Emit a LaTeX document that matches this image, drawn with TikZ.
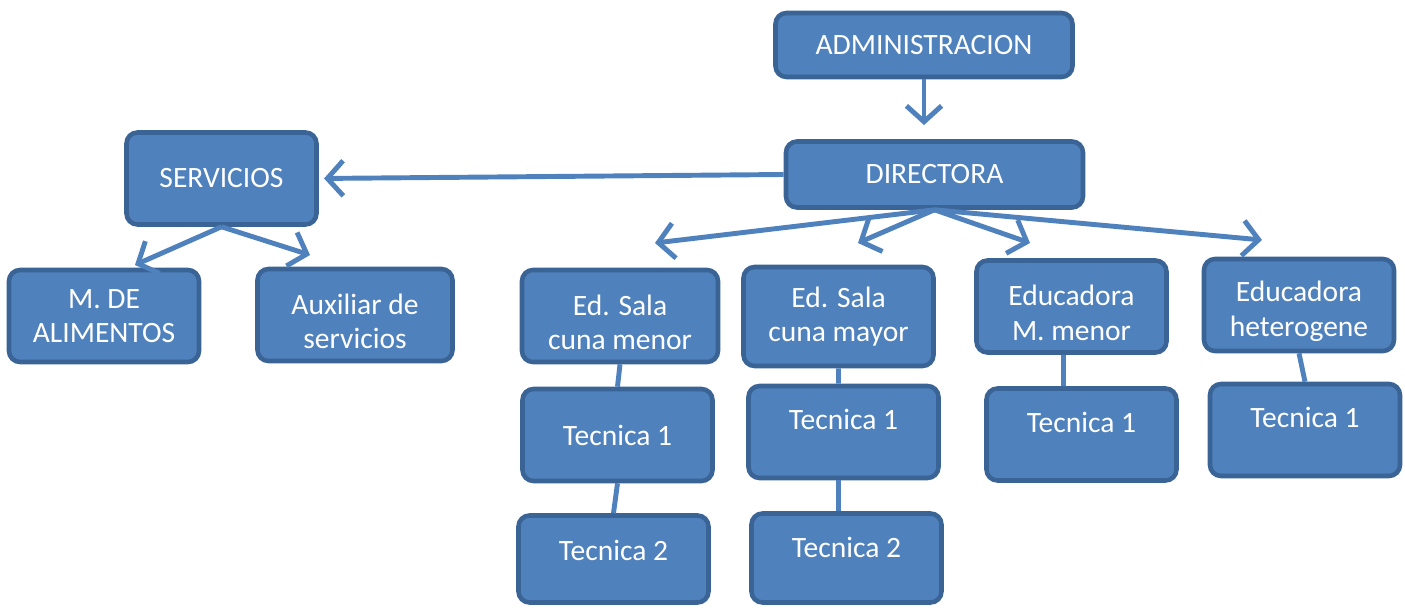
\documentclass[tikz,border=0pt]{standalone}
\usepackage{fontspec}
\setmainfont{Carlito}
\usepackage{tikz}
\usetikzlibrary{arrows.meta,positioning}
\definecolor{boxfill}{HTML}{4F81BD}
\definecolor{boxline}{HTML}{3A6496}
\tikzstyle{cargo} = [rectangle, rounded corners=0.22cm, fill=boxfill, draw=boxline, line width=2.6pt, text=white, align=center, text centered, font=\fontsize{16.8}{19.5}\selectfont, minimum width=3.8cm, minimum height=1.84cm]
\tikzstyle{jefe} = [cargo, minimum width=5.94cm, minimum height=1.28cm]
\tikzstyle{subir} = [text depth=#1]
\tikzstyle{flecha} = [draw=boxfill, line width=2.8pt, -{Straight Barb[length=9pt,width=20pt,line width=2.8pt]}]
\tikzstyle{linea} = [draw=boxfill, line width=2.8pt]
\newcommand{\bajar}{\rule{0pt}{0.66cm}}

\begin{document}
\begin{tikzpicture}
			\useasboundingbox (0,0) rectangle (28.1,-12.16);
			\node[jefe] (admin) at (18.48,-0.90) {ADMINISTRACION};
			\node[jefe, minimum height=1.32cm] (dir) at (18.69,-3.49) {DIRECTORA};
			\node[cargo] (serv) at (4.43,-3.57) {SERVICIOS};
			
			\node[cargo] (alim) at (2.08,-6.32) {M. DE\\ALIMENTOS};
			\node[cargo, minimum width=3.9cm] (aux) at (7.10,-6.30) {\bajar Auxiliar de\\servicios};
			\node[cargo, minimum width=3.92cm] (menor) at (12.40,-6.32) {\bajar Ed. Sala\\cuna menor};
			\node[cargo, minimum height=1.98cm] (mayor) at (16.77,-6.33) {Ed. Sala\\cuna mayor};
			\node[cargo] (mmenor) at (21.43,-6.13) {\bajar Educadora\\M. menor};
			\node[cargo] (hetero) at (25.98,-6.10) {\bajar Educadora\\heterogene};
			
			\node[cargo] (tecA1) at (12.35,-8.70) {Tecnica 1};
			\node[cargo, minimum height=1.74cm, subir=0.36cm] (tecA2) at (12.27,-11.18) {Tecnica 2};
			\node[cargo, subir=0.52cm] (tecB1) at (16.87,-8.64) {Tecnica 1};
			\node[cargo, minimum height=1.78cm, subir=0.44cm] (tecB2) at (16.93,-11.16) {Tecnica 2};
			\node[cargo, subir=0.48cm] (tecC1) at (21.63,-8.69) {Tecnica 1};
			\node[cargo, subir=0.52cm] (tecD1) at (26.10,-8.60) {Tecnica 1};
			
			%puntas libres
			\coordinate (pAdmin) at (18.48,-2.50);
			\coordinate (pAlim) at (2.70,-5.30);
			\coordinate (pAux) at (6.20,-5.10);
			\coordinate (pMenor) at (13.10,-4.86);
			\coordinate (pMayor) at (17.16,-4.86);
			\coordinate (pMmenor) at (20.60,-4.86);
			\coordinate (pHetero) at (25.24,-4.80);
			
			%flechas
			\draw [flecha] (admin.south) -- (pAdmin);
			\draw [flecha, shorten >=3pt] (dir.west) -- (serv.east);
			\draw [flecha] (serv.south) -- (pAlim);
			\draw [flecha] (serv.south) -- (pAux);
			\draw [flecha] (dir.south) -- (pMenor);
			\draw [flecha] (dir.south) -- (pMayor);
			\draw [flecha] (dir.south) -- (pMmenor);
			\draw [flecha] (dir.south) -- (pHetero);
			
			%lineas
			\draw [linea] (menor.south) -- (tecA1.north);
			\draw [linea] (tecA1.south) -- (tecA2.north);
			\draw [linea] (mayor.south) -- ([xshift=-0.1cm]tecB1.north);
			\draw [linea] ([xshift=-0.1cm]tecB1.south) -- ([xshift=-0.16cm]tecB2.north);
			\draw [linea] ([xshift=-0.16cm]mmenor.south) -- ([xshift=-0.36cm]tecC1.north);
			\draw [linea] (hetero.south) -- (tecD1.north);
		\end{tikzpicture}
\end{document}
